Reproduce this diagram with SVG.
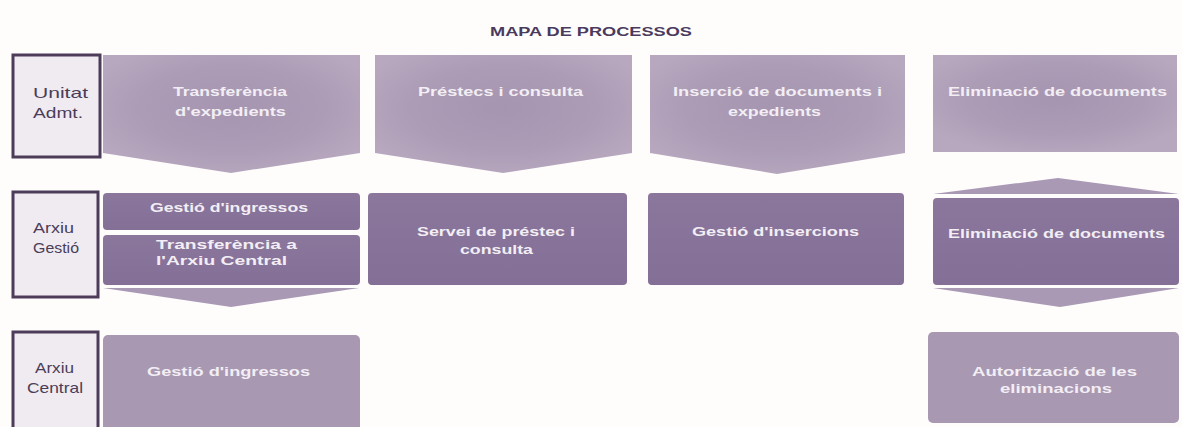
<svg xmlns="http://www.w3.org/2000/svg" width="1182" height="427" viewBox="0 0 1182 427">
  <defs>
    <radialGradient id="g1" cx="0.5" cy="0.45" r="0.6">
      <stop offset="0" stop-color="#a695b0"/>
      <stop offset="0.6" stop-color="#ac9cb6"/>
      <stop offset="1" stop-color="#b7a8bf"/>
    </radialGradient>
    <linearGradient id="g2" x1="0" y1="0" x2="0" y2="1">
      <stop offset="0" stop-color="#8b769c"/>
      <stop offset="1" stop-color="#846f97"/>
    </linearGradient>
  </defs>
  <style>
    .lab { fill: #efebf1; stroke: #4c3c59; stroke-width: 3; }
    .lt { font-family: "Liberation Sans", Arial, sans-serif; font-size: 15px; fill: #4b3d58; }
    .p1 { fill: url(#g1); }
    .p2 { fill: url(#g2); }
    .p3 { fill: #a898b2; }
    .tri { fill: #a999b5; }
    .wt { font-family: "Liberation Sans", Arial, sans-serif; font-size: 13px; font-weight: bold; fill: #f2eef4; }
    .title { font-family: "Liberation Sans", Arial, sans-serif; font-size: 13px; font-weight: bold; fill: #4a3a5e; }
  </style>
  <rect x="0" y="0" width="1182" height="427" fill="#fefdfb"/>
  <text class="title" x="490" y="36" textLength="202" lengthAdjust="spacingAndGlyphs">MAPA DE PROCESSOS</text>

  <g id="lane-unitat">
    <rect class="lab" x="13" y="55" width="87" height="102"/>
    <text class="lt" x="33" y="98" textLength="55" lengthAdjust="spacingAndGlyphs">Unitat</text>
    <text class="lt" x="33" y="118" textLength="50" lengthAdjust="spacingAndGlyphs">Admt.</text>
  </g>
  <g id="lane-gestio">
    <rect class="lab" x="13" y="192" width="85" height="105"/>
    <text class="lt" x="33" y="233" textLength="41" lengthAdjust="spacingAndGlyphs">Arxiu</text>
    <text class="lt" x="33" y="253" textLength="46" lengthAdjust="spacingAndGlyphs">Gestió</text>
  </g>
  <g id="lane-central">
    <rect class="lab" x="13" y="332" width="85" height="100"/>
    <text class="lt" x="35" y="373" textLength="39" lengthAdjust="spacingAndGlyphs">Arxiu</text>
    <text class="lt" x="27" y="393" textLength="56" lengthAdjust="spacingAndGlyphs">Central</text>
  </g>

  <g id="transferencia-expedients">
    <path class="p1" d="M103,55 H360 V153 L231,173 L103,153 Z"/>
    <text class="wt" x="173" y="96" textLength="114" lengthAdjust="spacingAndGlyphs">Transferència</text>
    <text class="wt" x="175" y="116" textLength="111" lengthAdjust="spacingAndGlyphs">d'expedients</text>
  </g>
  <g id="prestecs-consulta">
    <path class="p1" d="M375,55 H632 V153 L503,173 L375,153 Z"/>
    <text class="wt" x="418" y="96" textLength="165" lengthAdjust="spacingAndGlyphs">Préstecs i consulta</text>
  </g>
  <g id="insercio-documents">
    <path class="p1" d="M650,55 H905 V153 L777,174 L650,153 Z"/>
    <text class="wt" x="673" y="96" textLength="209" lengthAdjust="spacingAndGlyphs">Inserció de documents i</text>
    <text class="wt" x="728" y="116" textLength="93" lengthAdjust="spacingAndGlyphs">expedients</text>
  </g>
  <g id="eliminacio-unitat">
    <rect class="p1" x="933" y="55" width="244" height="97"/>
    <text class="wt" x="948" y="96" textLength="219" lengthAdjust="spacingAndGlyphs">Eliminació de documents</text>
  </g>

  <g id="gestio-ingressos-ag">
    <rect class="p2" x="103" y="193" width="257" height="37" rx="4"/>
    <text class="wt" x="150" y="212" textLength="158" lengthAdjust="spacingAndGlyphs">Gestió d'ingressos</text>
  </g>
  <g id="transferencia-arxiu-central">
    <rect class="p2" x="103" y="235" width="257" height="50" rx="4"/>
    <text class="wt" x="156" y="249" textLength="141" lengthAdjust="spacingAndGlyphs">Transferència a</text>
    <text class="wt" x="156" y="265" textLength="131" lengthAdjust="spacingAndGlyphs">l'Arxiu Central</text>
  </g>
  <g id="servei-prestec">
    <rect class="p2" x="368" y="193" width="259" height="92" rx="4"/>
    <text class="wt" x="417" y="236" textLength="158" lengthAdjust="spacingAndGlyphs">Servei de préstec i</text>
    <text class="wt" x="460" y="254" textLength="73" lengthAdjust="spacingAndGlyphs">consulta</text>
  </g>
  <g id="gestio-insercions">
    <rect class="p2" x="648" y="193" width="256" height="92" rx="4"/>
    <text class="wt" x="692" y="236" textLength="167" lengthAdjust="spacingAndGlyphs">Gestió d'insercions</text>
  </g>
  <g id="eliminacio-gestio">
    <rect class="p2" x="933" y="198" width="246" height="87" rx="4"/>
    <text class="wt" x="948" y="238" textLength="217" lengthAdjust="spacingAndGlyphs">Eliminació de documents</text>
  </g>

  <g id="gestio-ingressos-ac">
    <rect class="p3" x="103" y="335" width="257" height="100" rx="5"/>
    <text class="wt" x="147" y="376" textLength="163" lengthAdjust="spacingAndGlyphs">Gestió d'ingressos</text>
  </g>
  <g id="autoritzacio-eliminacions">
    <rect class="p3" x="928" y="332" width="251" height="91" rx="5"/>
    <text class="wt" x="972" y="376" textLength="165" lengthAdjust="spacingAndGlyphs">Autorització de les</text>
    <text class="wt" x="1000" y="393" textLength="112" lengthAdjust="spacingAndGlyphs">eliminacions</text>
  </g>

  <g id="connectors">
    <path class="tri" d="M103,288 H359 L231,307 Z"/>
    <path class="tri" d="M933,194 L1058,178 L1179,194 Z"/>
    <path class="tri" d="M933,288 H1179 L1060,307 Z"/>
  </g>
</svg>
